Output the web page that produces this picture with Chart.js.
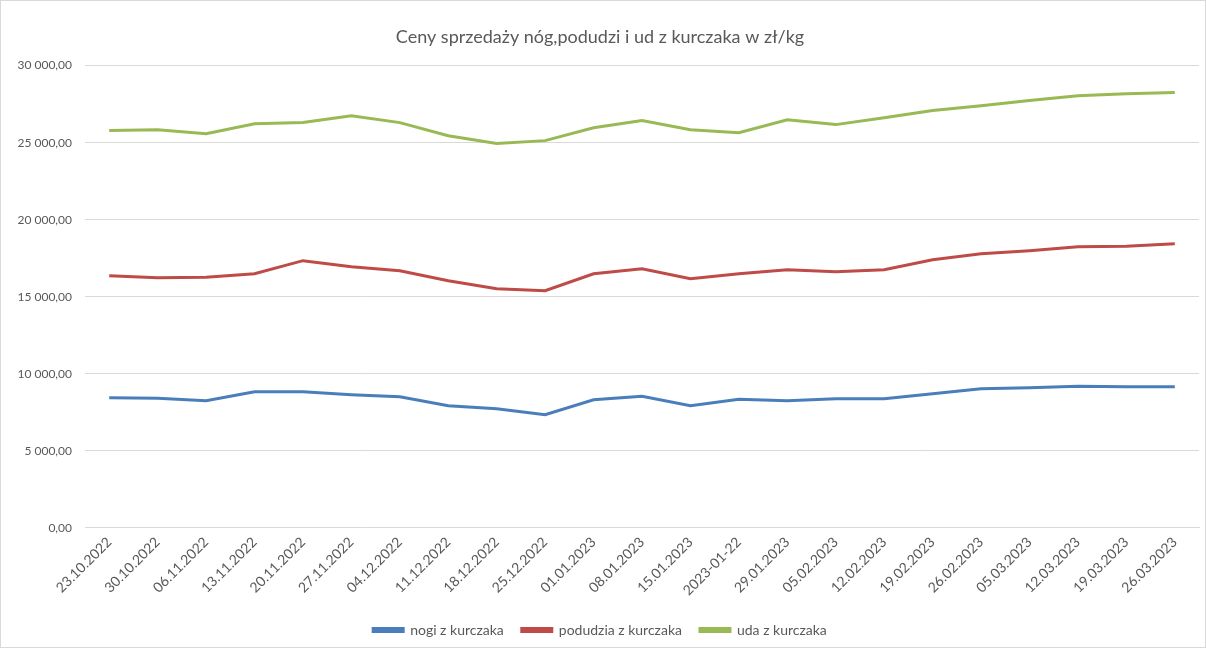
<!DOCTYPE html>
<html>
<head>
<meta charset="utf-8">
<script src="https://cdn.jsdelivr.net/npm/chart.js@4/dist/chart.umd.min.js"></script>
<style>
html,body{margin:0;padding:0;background:#fff;}
#wrap{width:1206px;height:648px;box-sizing:border-box;border:1px solid #d9d9d9;position:relative;}
canvas{display:block;}
</style>
</head>
<body>
<div id="wrap"><canvas id="c" width="1204" height="646"></canvas></div>
<script>
const categories = ["23.10.2022","30.10.2022","06.11.2022","13.11.2022","20.11.2022","27.11.2022","04.12.2022","11.12.2022","18.12.2022","25.12.2022","01.01.2023","08.01.2023","15.01.2023","2023-01-22","29.01.2023","05.02.2023","12.02.2023","19.02.2023","26.02.2023","05.03.2023","12.03.2023","19.03.2023","26.03.2023"];
const nogi = [8440,8410,8250,8830,8830,8640,8510,7920,7730,7340,8310,8540,7920,8340,8250,8380,8380,8700,9030,9090,9190,9160,9160];
const podudzia = [16360,16230,16270,16490,17340,16950,16690,16040,15520,15390,16490,16820,16170,16490,16750,16620,16750,17400,17790,17990,18250,18280,18440];
const uda = [25780,25840,25580,26230,26300,26750,26300,25450,24940,25130,25970,26430,25840,25650,26490,26170,26620,27080,27400,27730,28050,28180,28250];
const seriesNames = ["nogi z kurczaka","podudzia z kurczaka","uda z kurczaka"];
const yTicks = [0,5000,10000,15000,20000,25000,30000];

function fmt(v){
  const s = Math.round(v).toString().replace(/\B(?=(\d{3})+(?!\d))/g, " ");
  return s + ",00";
}
const FONT = "Lato, 'Open Sans', sans-serif";
const colors = ["#4a7ebb","#be4b48","#98b954"];
const data = [nogi, podudzia, uda];

new Chart(document.getElementById('c'), {
  type: 'line',
  data: {
    labels: categories,
    datasets: data.map((d,i)=>({
      label: seriesNames[i],
      data: d,
      borderColor: colors[i],
      backgroundColor: colors[i],
      borderWidth: 3,
      pointRadius: 0,
      tension: 0,
      fill: false
    }))
  },
  options: {
    responsive: false,
    animation: false,
    layout: { padding: { left: 0, right: 6, top: 14, bottom: 0 } },
    plugins: {
      title: {
        display: true,
        text: "Ceny sprzedaży nóg,podudzi i ud z kurczaka w zł/kg",
        color: "#595959",
        font: { family: FONT, size: 18, weight: 'normal' },
        padding: { top: 11, bottom: 18 }
      },
      legend: {
        position: 'bottom',
        labels: {
          color: "#595959",
          font: { family: FONT, size: 14 },
          boxWidth: 30,
          boxHeight: 3,
          padding: 18
        }
      },
      tooltip: { enabled: false }
    },
    scales: {
      x: {
        offset: true,
        grid: { display: false, drawTicks: false },
        border: { display: true, color: "#d9d9d9" },
        ticks: {
          color: "#595959",
          font: { family: FONT, size: 14 },
          minRotation: 45,
          maxRotation: 45,
          autoSkip: false,
          padding: 6
        }
      },
      y: {
        min: 0,
        max: 30000,
        afterBuildTicks: (s) => { s.ticks = yTicks.map(v => ({ value: v })); },
        afterFit: (s) => { s.width = 84; },
        grid: { color: "#d9d9d9", drawTicks: false, lineWidth: 1 },
        border: { display: false },
        ticks: {
          color: "#595959",
          font: { family: FONT, size: 12 },
          padding: 13,
          callback: (v) => fmt(v)
        }
      }
    }
  }
});
</script>
</body>
</html>
